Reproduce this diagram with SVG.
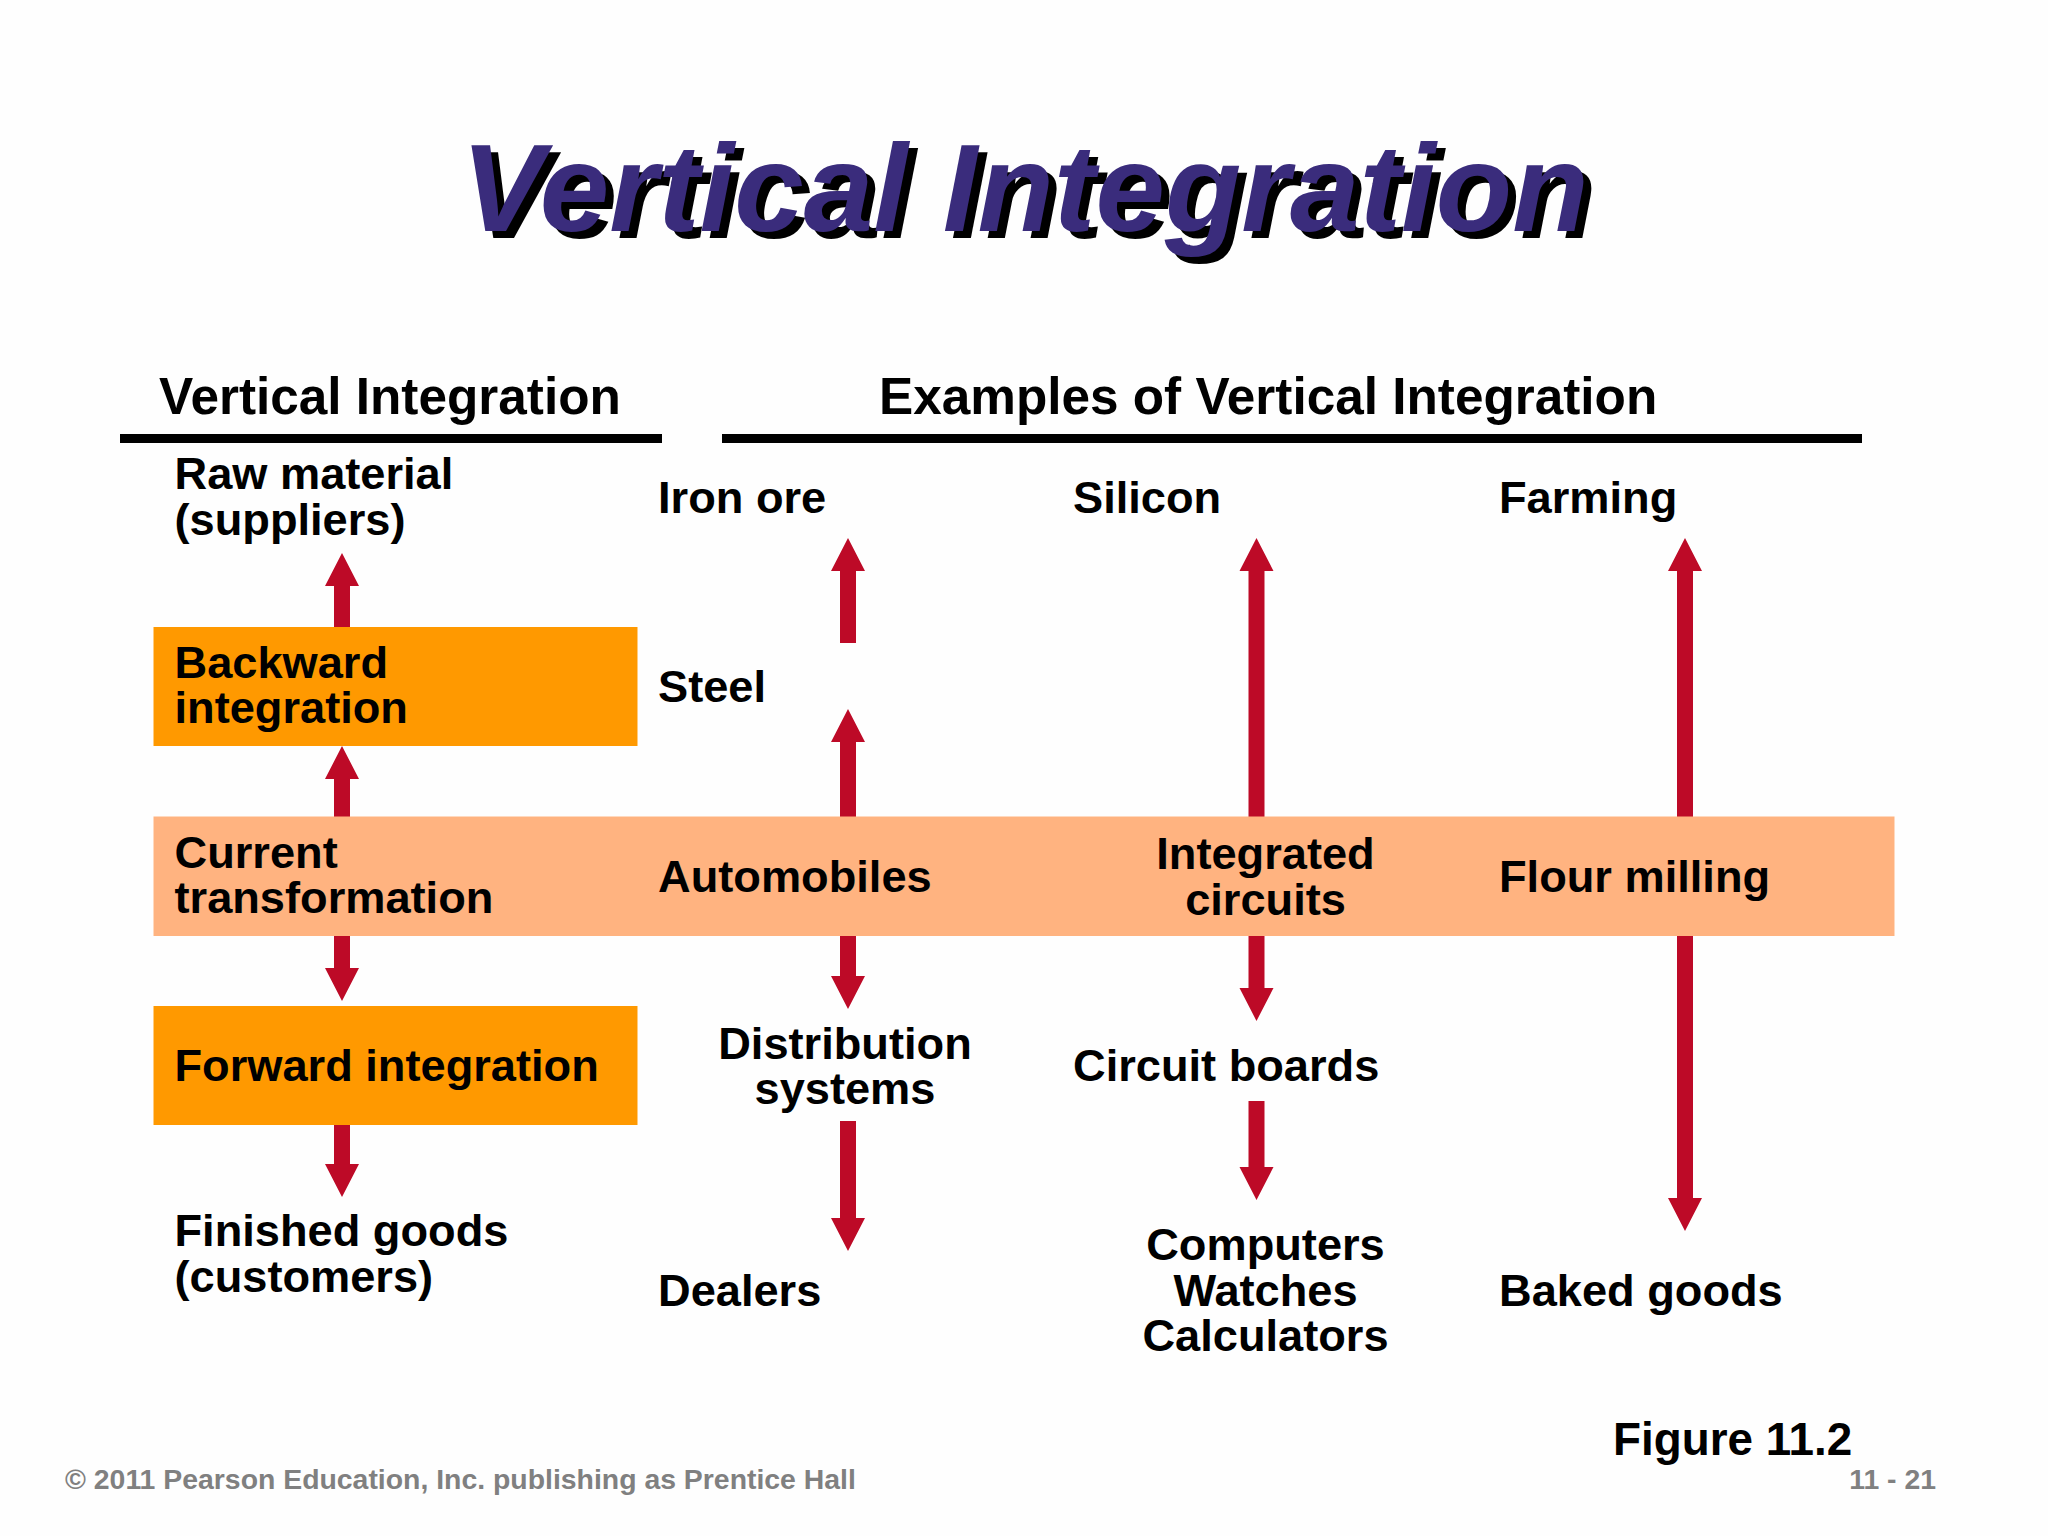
<svg xmlns="http://www.w3.org/2000/svg" width="2048" height="1536" viewBox="0 0 2048 1536">
<defs>
<style>
text{font-family:"Liberation Sans",Arial,sans-serif;font-weight:700;fill:#000}
.l{font-size:45.2px}
.m{text-anchor:middle}
.h{font-size:51.3px}
.t{font-size:125px;font-style:italic}
.f{font-size:28.4px;fill:#808080}
.a{fill:#bd0a27}
.r{fill:#000}
</style>
</defs>
<rect width="2048" height="1536" fill="#fefefe"/>
<g id="title">
<text class="t" x="469" y="238" style="fill:#000">Vertical Integration</text>
<text class="t" x="461" y="231" style="fill:#3a2c7c">Vertical Integration</text>
</g>
<g id="headers">
<text class="h" x="159" y="414">Vertical Integration</text>
<rect class="r" x="120" y="434" width="542" height="9"/>
<text class="h" x="879" y="414">Examples of Vertical Integration</text>
<rect class="r" x="722" y="434" width="1140" height="9"/>
</g>
<g id="connectors">
<path class="a" d="M342 553l17 33h-9v41h-16v-41h-9z"/>
<path class="a" d="M342 746l17 33h-9v38h-16v-38h-9z"/>
<path class="a" d="M342 1001l17-33h-9v-32h-16v32h-9z"/>
<path class="a" d="M342 1197l17-33h-9v-39h-16v39h-9z"/>
<path class="a" d="M848 538l17 33h-9v72h-16v-72h-9z"/>
<path class="a" d="M848 709l17 33h-9v75h-16v-75h-9z"/>
<path class="a" d="M848 1009l17-33h-9v-40h-16v40h-9z"/>
<path class="a" d="M848 1251l17-33h-9v-97h-16v97h-9z"/>
<path class="a" d="M1256.500 538l17 33h-9v246h-16v-246h-9z"/>
<path class="a" d="M1256.500 1021l17-33h-9v-52h-16v52h-9z"/>
<path class="a" d="M1256.500 1200l17-33h-9v-66h-16v66h-9z"/>
<path class="a" d="M1685 538l17 33h-9v246h-16v-246h-9z"/>
<path class="a" d="M1685 1231l17-33h-9v-262h-16v262h-9z"/>
</g>
<g id="backward-integration">
<rect x="153.500" y="627" width="484" height="119" fill="#ff9900"/>
<text class="l" x="174.500" y="678">Backward</text>
<text class="l" x="174.500" y="723">integration</text>
</g>
<g id="current-transformation">
<rect x="153.500" y="816.500" width="1741" height="119.500" fill="#ffb380"/>
<text class="l" x="174.500" y="868">Current</text>
<text class="l" x="174.500" y="913">transformation</text>
</g>
<g id="forward-integration">
<rect x="153.500" y="1006" width="484" height="119" fill="#ff9900"/>
<text class="l" x="174.500" y="1081">Forward integration</text>
</g>
<g id="raw-material">
<text class="l" x="174.500" y="489">Raw material</text>
<text class="l" x="174.500" y="535">(suppliers)</text>
</g>
<g id="finished-goods">
<text class="l" x="174.500" y="1246">Finished goods</text>
<text class="l" x="174.500" y="1291.500">(customers)</text>
</g>
<g id="iron-ore"><text class="l" x="658" y="513">Iron ore</text></g>
<g id="steel"><text class="l" x="658" y="702">Steel</text></g>
<g id="automobiles"><text class="l" x="658" y="892">Automobiles</text></g>
<g id="distribution-systems">
<text class="l m" x="845" y="1059">Distribution</text>
<text class="l m" x="845" y="1104">systems</text>
</g>
<g id="dealers"><text class="l" x="658" y="1306">Dealers</text></g>
<g id="silicon"><text class="l" x="1073" y="513">Silicon</text></g>
<g id="integrated-circuits">
<text class="l m" x="1265.500" y="869">Integrated</text>
<text class="l m" x="1265.500" y="914.500">circuits</text>
</g>
<g id="circuit-boards"><text class="l" x="1073" y="1081">Circuit boards</text></g>
<g id="computers">
<text class="l m" x="1265.500" y="1260">Computers</text>
<text class="l m" x="1265.500" y="1306">Watches</text>
<text class="l m" x="1265.500" y="1351">Calculators</text>
</g>
<g id="farming"><text class="l" x="1499" y="513">Farming</text></g>
<g id="flour-milling"><text class="l" x="1499" y="892">Flour milling</text></g>
<g id="baked-goods"><text class="l" x="1499" y="1306">Baked goods</text></g>
<g id="footer">
<text class="l" x="1613" y="1455" style="font-size:45.800px">Figure 11.2</text>
<text class="f" x="65" y="1489">© 2011 Pearson Education, Inc. publishing as Prentice Hall</text>
<text class="f" x="1936" y="1489" text-anchor="end">11 - 21</text>
</g>
</svg>
